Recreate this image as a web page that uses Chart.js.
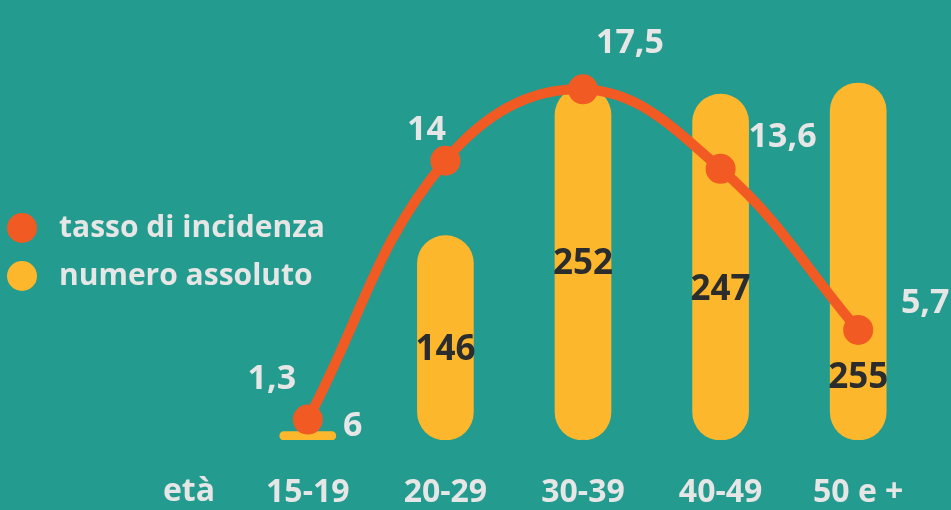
<!DOCTYPE html>
<html>
<head>
<meta charset="utf-8">
<script src="https://cdn.jsdelivr.net/npm/chart.js@4"></script>
<style>
    html, body { margin: 0; padding: 0; background: #239b8e; }
    #wrap { position: relative; width: 951px; height: 510px; }
</style>
</head>
<body>
<div id="wrap"><canvas id="chart" width="951" height="510"></canvas></div>
<script>
// data
const categories = ['15-19', '20-29', '30-39', '40-49', '50 e +'];
const numeroAssoluto = [6, 146, 252, 247, 255];
const tassoIncidenza = [1.3, 14, 17.5, 13.6, 5.7];
const axisTitle = 'età';
const legendLabels = ['tasso di incidenza', 'numero assoluto'];

const ORANGE = '#f15a22';
const YELLOW = '#fdb72c';
const LIGHT = '#e6e6e6';
const DARK = '#2a2c2d';
const FONT = '"Open Sans", "Noto Sans", sans-serif';

function fmt(v) {
    return String(v).replace('.', ',');
}

// offsets of the value labels around each point / bar
const lineLabelOffsets = [[-36, -40], [-19, -30], [47, -46], [62, -32], [67, -27]];
const barLabelOffsets = [[45, -5], [0, 12], [0, 0], [0, 23], [0, 117]];

const labelsPlugin = {
    id: 'labels',
    afterDatasetsDraw(chart) {
        const ctx = chart.ctx;
        const barMeta = chart.getDatasetMeta(1);
        const lineMeta = chart.getDatasetMeta(0);
        ctx.save();
        ctx.textAlign = 'center';
        ctx.textBaseline = 'middle';

        // bar values
        barMeta.data.forEach((bar, i) => {
            const off = barLabelOffsets[i];
            let y;
            if (i === 0) {
                ctx.fillStyle = LIGHT;
                ctx.font = '700 34px ' + FONT;
                y = bar.y + off[1];
            } else {
                ctx.fillStyle = DARK;
                ctx.font = '700 35px ' + FONT;
                y = (bar.y + bar.base) / 2 + off[1];
            }
            ctx.fillText(String(numeroAssoluto[i]), bar.x + off[0], y);
        });

        // line values
        ctx.fillStyle = LIGHT;
        ctx.font = '700 34px ' + FONT;
        lineMeta.data.forEach((pt, i) => {
            const off = lineLabelOffsets[i];
            ctx.fillText(fmt(tassoIncidenza[i]), pt.x + off[0], pt.y + off[1]);
        });

        // axis title next to tick labels
        const xScale = chart.scales.x;
        ctx.font = '700 32px ' + FONT;
        ctx.fillText(axisTitle, 189, xScale.top + 34 + 18);

        // legend
        const colors = [ORANGE, YELLOW];
        ctx.textAlign = 'left';
        ctx.font = '700 30px ' + FONT;
        legendLabels.forEach((txt, i) => {
            const y = 228 + i * 48;
            ctx.fillStyle = colors[i];
            ctx.beginPath();
            ctx.arc(22, y, 15, 0, Math.PI * 2);
            ctx.fill();
            ctx.fillStyle = LIGHT;
            ctx.fillText(txt, 59, y);
        });
        ctx.restore();
    }
};

new Chart(document.getElementById('chart'), {
    data: {
        labels: categories,
        datasets: [{
            type: 'line',
            label: legendLabels[0],
            data: tassoIncidenza,
            yAxisID: 'yLine',
            borderColor: ORANGE,
            backgroundColor: ORANGE,
            borderWidth: 10,
            tension: 0.4,
            pointRadius: 15,
            pointHoverRadius: 15,
            pointBorderWidth: 0,
            order: 0
        }, {
            type: 'bar',
            label: legendLabels[1],
            data: numeroAssoluto,
            yAxisID: 'yBar',
            backgroundColor: YELLOW,
            barThickness: 56,
            borderRadius: 28,
            borderSkipped: false,
            order: 1
        }]
    },
    options: {
        responsive: false,
        animation: false,
        layout: { padding: { left: 239, right: 24, top: 20, bottom: 0 } },
        plugins: {
            legend: { display: false },
            tooltip: { enabled: false }
        },
        scales: {
            x: {
                grid: { display: false, drawTicks: false },
                border: { display: false },
                ticks: {
                    color: LIGHT,
                    font: { family: FONT, size: 32, weight: '700' },
                    padding: 34
                },
                afterFit(scale) {
                    scale.height = 70;
                }
            },
            yBar: {
                display: false,
                min: 0,
                max: 300
            },
            yLine: {
                display: false,
                min: 0.3,
                max: 20.9
            }
        }
    },
    plugins: [labelsPlugin]
});
</script>
</body>
</html>
